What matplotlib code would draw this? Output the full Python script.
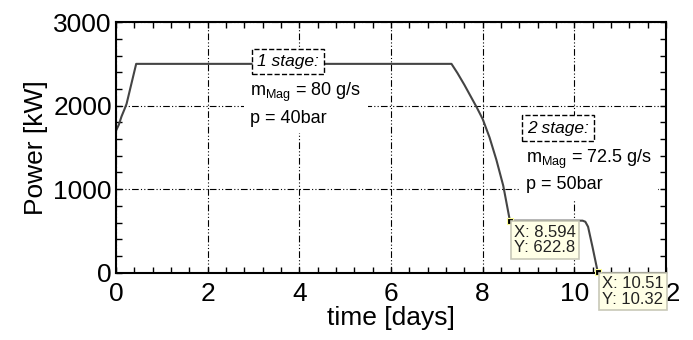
import matplotlib
matplotlib.use("Agg")
import matplotlib.pyplot as plt
from matplotlib.ticker import MultipleLocator

plt.rcParams['font.family'] = ['Liberation Sans', 'DejaVu Sans']
plt.rcParams['mathtext.fontset'] = 'custom'
plt.rcParams['mathtext.rm'] = 'Liberation Sans'
plt.rcParams['mathtext.it'] = 'Liberation Sans:italic'

# power curve (days, kW)
time_days = [0, 0.06, 0.12, 0.18, 0.23, 0.30, 0.37, 0.44,
             7.32, 7.45, 7.60, 7.75, 7.87, 8.00, 8.15, 8.30, 8.45, 8.594,
             10.18, 10.24, 10.30, 10.40, 10.51]
power_kw = [1700, 1770, 1870, 1950, 2020, 2180, 2340, 2500,
            2500, 2390, 2250, 2100, 1980, 1840, 1620, 1350, 1040, 622.8,
            622.8, 610, 550, 300, 10.32]

# data tips
tip_x = [8.594, 10.51]
tip_y = [622.8, 10.32]

x_ticks = [0, 2, 4, 6, 8, 10, 12]
y_ticks = [0, 1000, 2000, 3000]

fig = plt.figure(figsize=(6.93, 3.4), dpi=100)
ax = fig.add_axes([0.1674, 0.198, 0.7936, 0.737])

ax.plot(time_days, power_kw, color='#444444', lw=1.5, zorder=2)

ax.set_xlim(0, 12)
ax.set_ylim(0, 3000)
ax.set_xticks(x_ticks)
ax.set_yticks(y_ticks)
ax.xaxis.set_minor_locator(MultipleLocator(0.4))
ax.yaxis.set_minor_locator(MultipleLocator(200))
ax.tick_params(which='both', direction='in', top=True, right=True,
               length=4, width=1, labelsize=19)
ax.tick_params(axis='x', pad=7)
ax.tick_params(axis='y', pad=3)
for s in ax.spines.values():
    s.set_linewidth(1.5)

ax.grid(True, which='major', color='black', lw=0.8,
        linestyle=(0, (6, 2, 1, 2, 1, 2)))
ax.set_axisbelow(True)

ax.set_xlabel('time [days]', fontsize=19, labelpad=0)
ax.set_ylabel('Power [kW]', fontsize=19, labelpad=4)

# stage annotations
ax.text(3.76, 2528, '1 stage:', fontsize=12.5, style='italic',
        ha='center', va='center', zorder=4,
        bbox=dict(boxstyle='square,pad=0.3', fc='white', ec='black',
                  lw=1, ls='--'))
ax.text(2.93, 2300, 'm$_{\\rm Mag}$ = 80 g/s\np = 40bar', fontsize=13,
        ha='left', va='top', linespacing=1.45, zorder=3,
        bbox=dict(boxstyle='square,pad=0.35', fc='white', ec='none'))

ax.text(9.64, 1730, '2 stage:', fontsize=12.5, style='italic',
        ha='center', va='center', zorder=4,
        bbox=dict(boxstyle='square,pad=0.3', fc='white', ec='black',
                  lw=1, ls='--'))
ax.text(8.94, 1500, 'm$_{\\rm Mag}$ = 72.5 g/s\np = 50bar', fontsize=13,
        ha='left', va='top', linespacing=1.45, zorder=3,
        bbox=dict(boxstyle='square,pad=0.35', fc='white', ec='none'))

# data tips
for x, y in zip(tip_x, tip_y):
    ax.plot(x, y, marker='s', ms=4, mfc='black', mec='#ffff99',
            mew=0.8, clip_on=False, zorder=6)
    ax.annotate('X: %.4g\nY: %.4g' % (x, y), xy=(x, y),
                xytext=(3, -3), textcoords='offset points',
                ha='left', va='top', fontsize=12, color='#222222',
                linespacing=1.05, annotation_clip=False, zorder=7,
                bbox=dict(boxstyle='square,pad=0.2', fc='#ffffe6',
                          ec='#c8c8b8', lw=1.2))

fig.savefig('out.png', dpi=100)
